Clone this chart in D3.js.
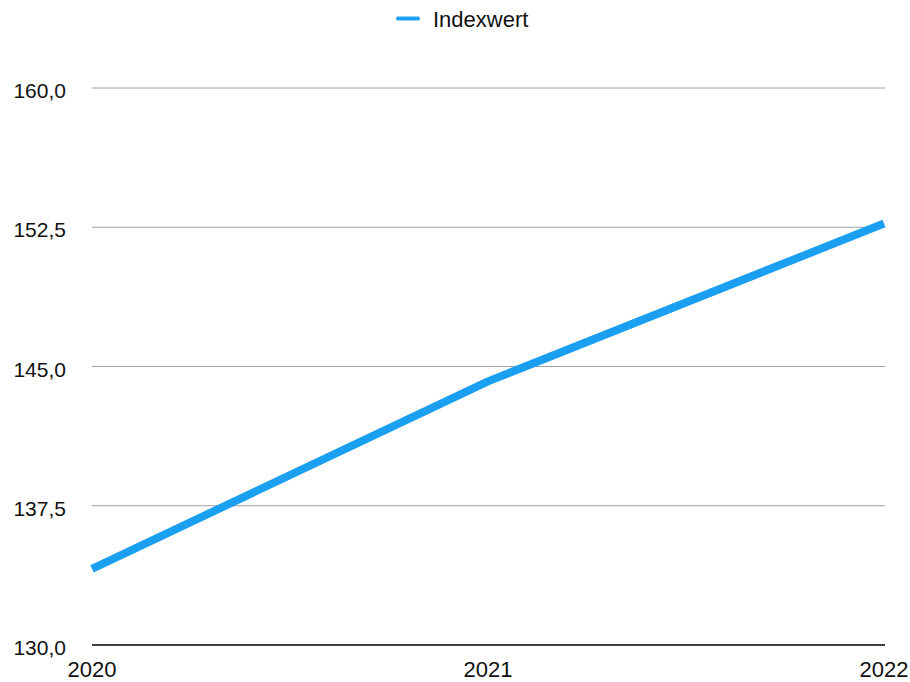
<!DOCTYPE html>
<html><head><meta charset="utf-8">
<script src="https://cdn.jsdelivr.net/npm/d3@7"></script>
<style>body{margin:0;background:#fff}svg{display:block}text{font-family:"Liberation Sans",Arial,Helvetica,sans-serif}</style>
</head><body><svg id="c" width="910" height="682"></svg>
<script>
const years = ["2020","2021","2022"];
const values = [134.1, 144.2, 152.7];
const yTicks = [130, 137.5, 145, 152.5, 160];
const seriesName = "Indexwert";

const svg = d3.select("#c");
const x = d3.scalePoint().domain(years).range([92, 884]);
const y = d3.scaleLinear().domain([130, 160]).range([645, 88]);
const fmt = v => d3.format(".1f")(v).replace(".", ",");

const grid = svg.append("g");
yTicks.forEach(t => {
  grid.append("line").attr("x1", 92).attr("x2", 885).attr("y1", y(t)).attr("y2", y(t))
    .attr("stroke", t === 130 ? "#000" : "#a0a0a0").attr("stroke-width", t === 130 ? 1.5 : 1);
  svg.append("text").attr("x", 66).attr("y", y(t) + 10).attr("text-anchor", "end")
    .attr("font-size", 21).attr("fill", "#111").text(fmt(t));
});

years.forEach(yr => {
  svg.append("text").attr("x", x(yr)).attr("y", 677).attr("text-anchor", "middle")
    .attr("font-size", 22).attr("fill", "#111").text(yr);
});

const line = d3.line().x((d, i) => x(years[i])).y(d => y(d));
svg.append("path").datum(values).attr("d", line).attr("fill", "none")
  .attr("stroke", "#1b9ff0").attr("stroke-width", 8).attr("stroke-linejoin", "round");

svg.append("line").attr("x1", 398).attr("x2", 418).attr("y1", 18.5).attr("y2", 18.5)
  .attr("stroke", "#1b9ff0").attr("stroke-width", 4).attr("stroke-linecap", "round");
svg.append("text").attr("x", 433).attr("y", 27).attr("font-size", 22)
  .attr("fill", "#111").text(seriesName);
</script></body></html>
